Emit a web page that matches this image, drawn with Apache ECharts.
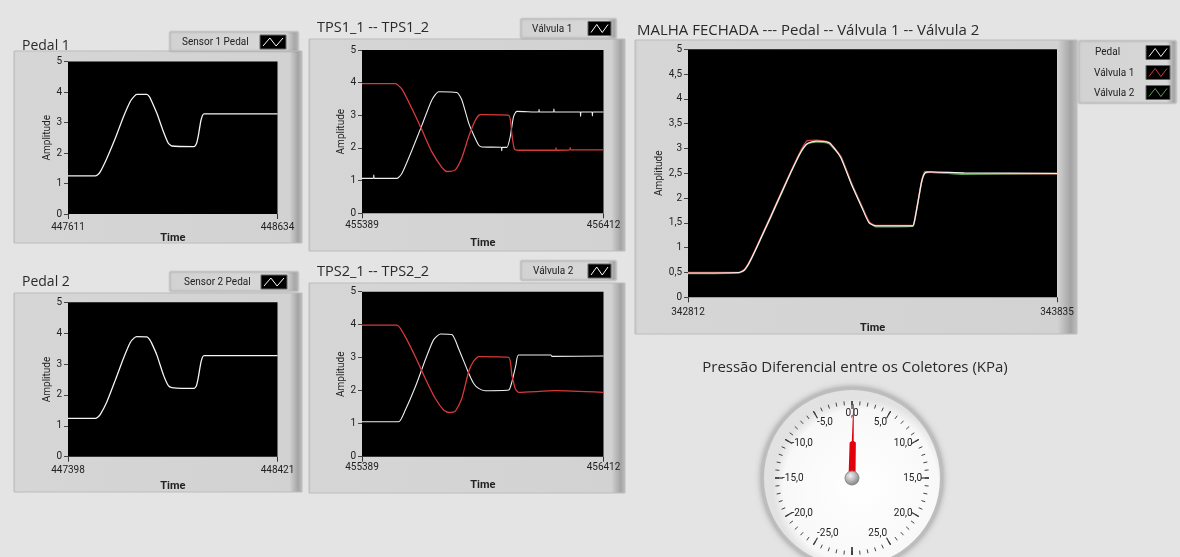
<!DOCTYPE html>
<html><head><meta charset="utf-8">
<script src="https://cdn.jsdelivr.net/npm/echarts@6/dist/echarts.min.js"></script>
<style>html,body{margin:0;padding:0;background:#e4e4e4}#c{width:1180px;height:557px}</style>
</head><body><div id="c"></div><script>
// ---- data (time offsets from the start of each window, amplitude values) ----
const span = 1023;
const pedal1Start = 447611, pedal2Start = 447398, tps1Start = 455389, tps2Start = 455389, malhaStart = 342812;

const pedal1T = [0,133,145,158,190,231,271,304,322,336,385,398,409,434,466,490,507,615,627,637,650,664,1023];
const pedal1V = [1.25,1.25,1.29,1.39,1.83,2.48,3.19,3.69,3.85,3.92,3.92,3.84,3.69,3.3,2.7,2.32,2.23,2.21,2.3,2.59,3.09,3.28,3.28];

const pedal2T = [0,133,145,158,190,231,271,304,322,336,385,398,409,434,466,490,507,615,627,637,650,664,1023];
const pedal2V = [1.24,1.24,1.28,1.37,1.78,2.48,3.19,3.7,3.84,3.89,3.88,3.8,3.67,3.29,2.65,2.3,2.24,2.21,2.3,2.59,3.08,3.27,3.27];

const tps1aT = [0,48,50,52,148,169,212,254,296,325,402,423,452,473,494,508,590,592,594,614,628,642,656,748,750,752,811,813,815,924,926,928,974,976,978,1023];
const tps1aV = [1.07,1.07,1.17,1.07,1.07,1.22,1.94,2.7,3.47,3.72,3.7,3.47,2.76,2.4,2.09,2.03,2.02,1.92,2.02,2.02,2.35,2.96,3.12,3.1,3.18,3.1,3.1,3.19,3.1,3.1,2.97,3.1,3.1,2.98,3.1,3.1];
const tps1bT = [0,141,169,212,254,296,339,360,395,423,452,480,501,621,635,646,663,820,822,824,880,882,884,1023];
const tps1bV = [3.97,3.97,3.8,3.2,2.55,1.88,1.4,1.28,1.33,1.7,2.35,2.85,3.02,3.0,2.4,1.96,1.93,1.93,2.0,1.93,1.94,2.01,1.94,1.94];

const tps2aT = [0,155,183,226,268,303,332,381,409,452,473,494,522,621,635,652,663,800,805,1023];
const tps2aV = [1.06,1.06,1.41,2.12,2.93,3.54,3.72,3.7,3.28,2.53,2.22,2.07,2.0,2.02,2.27,2.78,3.08,3.08,3.04,3.05];
const tps2bT = [0,148,183,226,268,310,346,367,395,423,452,473,494,621,635,649,663,818,1023];
const tps2bV = [3.99,3.99,3.64,3.03,2.37,1.77,1.41,1.34,1.38,1.77,2.58,2.9,3.03,3.01,2.47,2.07,1.95,2.0,1.95];

const malhaT  = [0,141,156,170,190,229,258,287,312,331,356,390,404,424,453,482,502,521,623,628,638,648,657,672,765,1023];
const malhaPedal = [0.49,0.5,0.55,0.7,1.0,1.62,2.09,2.55,2.92,3.1,3.15,3.12,3.02,2.81,2.28,1.81,1.5,1.44,1.44,1.54,1.94,2.34,2.51,2.53,2.51,2.5];
const malhaV1 = [0.5,0.5,0.56,0.72,1.02,1.64,2.11,2.57,2.95,3.16,3.17,3.13,3.03,2.83,2.3,1.83,1.52,1.45,1.45,1.56,1.96,2.36,2.54,2.52,2.5,2.49];
const malhaV2 = [0.48,0.49,0.54,0.69,0.99,1.6,2.07,2.54,2.91,3.09,3.13,3.1,3.0,2.84,2.31,1.84,1.53,1.42,1.43,1.52,1.92,2.33,2.5,2.52,2.48,2.49];

const gaugeValue = 0.2;

// ---- styling helpers ----
const FONT = 'Open Sans';
const TXT = '#222';
function mkX(gi, start, margin, nameGap) {
  return { gridIndex: gi, type: 'value', min: 0, max: span, interval: span,
    axisLine: { show: false }, splitLine: { show: false },
    axisTick: { show: true, length: 5, lineStyle: { color: '#333' } },
    axisLabel: { margin: margin, fontSize: 10, color: TXT, fontFamily: 'Roboto', formatter: v => String(start + v) },
    name: 'Time', nameLocation: 'middle', nameGap: nameGap,
    nameTextStyle: { fontWeight: 'bold', fontSize: 11, color: TXT, fontFamily: 'Roboto' } };
}
function mkY(gi, interval, nameGap) {
  return { gridIndex: gi, type: 'value', min: 0, max: 5, interval: interval,
    axisLine: { show: false }, splitLine: { show: false },
    axisTick: { show: true, length: 4, lineStyle: { color: '#444' } },
    axisLabel: { margin: 6, fontSize: 10, color: TXT, fontFamily: 'Roboto', formatter: v => String(v).replace('.', ',') },
    name: 'Amplitude', nameLocation: 'middle', nameGap: nameGap, nameRotate: 90,
    nameTextStyle: { fontSize: 10, color: TXT, fontFamily: 'Roboto' } };
}
function line(gi, T, V, color, width, z) {
  return { type: 'line', xAxisIndex: gi, yAxisIndex: gi, data: T.map((t, i) => [t, V[i]]),
    showSymbol: false, symbol: 'none', smooth: 0.2, lineStyle: { color: color, width: width }, itemStyle: { color: color },
    z: z, animation: false };
}
function frame(x, y, w, h) {
  return { type: 'rect', z: -5, shape: { x: x, y: y, width: w, height: h },
    style: { fill: { type: 'linear', x: 0, y: 0, x2: 1, y2: 0, colorStops: [
      { offset: 0, color: '#c4c4c4' }, { offset: 0.008, color: '#d6d6d6' },
      { offset: 0.955, color: '#d2d2d2' }, { offset: 0.985, color: '#a4a4a4' }, { offset: 1, color: '#c0c0c0' }] },
      stroke: '#bcbcbc', lineWidth: 1 } };
}
function legendBox(x, y, w, h) {
  return { type: 'rect', z: 5, shape: { x: x, y: y, width: w, height: h },
    style: { fill: { type: 'linear', x: 0, y: 0, x2: 1, y2: 0, colorStops: [
      { offset: 0, color: '#d2d2d2' }, { offset: 0.9, color: '#d8d8d8' }, { offset: 0.97, color: '#a8a8a8' }, { offset: 1, color: '#bdbdbd' }] },
      stroke: '#c2c2c2', lineWidth: 1, shadowBlur: 2, shadowColor: 'rgba(0,0,0,0.2)' } };
}
function swatch(x, y, w, h, color) {
  return [
    { type: 'rect', z: 6, shape: { x: x, y: y, width: w, height: h }, style: { fill: '#000', stroke: '#666', lineWidth: 1 } },
    { type: 'polyline', z: 7, shape: { points: [[x + 3, y + h - 3], [x + w * 0.38, y + 3], [x + w * 0.62, y + h - 3], [x + w - 3, y + 3]] },
      style: { stroke: color, lineWidth: 1, fill: null } }
  ];
}
function text(x, y, s, size, align) {
  return { type: 'text', z: 8, x: x, y: y,
    style: { text: s, fill: '#2a2a2a', font: size + 'px "' + FONT + '"', textAlign: align || 'left', textVerticalAlign: 'middle' } };
}
function smallText(x, y, s) {
  return { type: 'text', z: 8, x: x, y: y, style: { text: s, fill: TXT, font: '10px Roboto', textAlign: 'left', textVerticalAlign: 'middle' } };
}

const graphics = [
  frame(14, 51, 288, 192), frame(14, 293, 288, 199), frame(309, 39, 316, 212), frame(309, 283, 316, 210), frame(635, 40, 442, 294),
  text(22, 46, 'Pedal 1', 14), text(22, 282, 'Pedal 2', 14),
  text(317, 28, 'TPS1_1 -- TPS1_2', 14.5), text(317, 272, 'TPS2_1 -- TPS2_2', 14.5),
  text(637, 31, 'MALHA FECHADA --- Pedal -- Válvula 1 -- Válvula 2', 15),
  text(855, 368, 'Pressão Diferencial entre os Coletores (KPa)', 15, 'center'),
  legendBox(170, 32, 128, 19), smallText(182, 42, 'Sensor 1 Pedal'), ...swatch(260, 35, 26, 14, '#fff'),
  legendBox(170, 272, 128, 19), smallText(184, 282, 'Sensor 2 Pedal'), ...swatch(261, 275, 26, 14, '#fff'),
  legendBox(521, 19, 95, 19), smallText(532, 29, 'Válvula 1'), ...swatch(588, 21.5, 23, 14, '#fff'),
  legendBox(521, 261, 95, 19), smallText(533, 271, 'Válvula 2'), ...swatch(588, 264, 23, 14, '#fff'),
  legendBox(1079, 41, 97, 62),
  smallText(1095, 52, 'Pedal'), ...swatch(1146, 45.5, 24, 14, '#f0f0f0'),
  smallText(1094, 73, 'Válvula 1'), ...swatch(1146, 65.5, 24, 14, '#d03a3a'),
  smallText(1094, 93, 'Válvula 2'), ...swatch(1146, 85.5, 24, 14, '#5aa050'),
  { type: 'circle', z: -2, shape: { cx: 852, cy: 478, r: 91 },
    style: { fill: '#bdbdbd', shadowBlur: 6, shadowColor: 'rgba(0,0,0,0.35)' } },
  { type: 'circle', z: -1, shape: { cx: 852, cy: 478, r: 88 },
    style: { fill: { type: 'radial', x: 0.55, y: 0.55, r: 0.5, colorStops: [
      { offset: 0, color: '#ffffff' }, { offset: 0.88, color: '#f8f8f8' }, { offset: 1, color: '#e2e2e2' }] } } }
];

const chart = echarts.init(document.getElementById('c'), null, { renderer: 'canvas' });
chart.setOption({
  backgroundColor: '#e4e4e4',
  animation: false,
  grid: [
    { left: 68, top: 61.5, width: 209.5, height: 152.5, show: true, backgroundColor: '#000', borderWidth: 0 },
    { left: 362, top: 50, width: 241.5, height: 163.3, show: true, backgroundColor: '#000', borderWidth: 0 },
    { left: 688, top: 49.3, width: 369, height: 248, show: true, backgroundColor: '#000', borderWidth: 0 },
    { left: 68, top: 302.3, width: 209.5, height: 154.4, show: true, backgroundColor: '#000', borderWidth: 0 },
    { left: 362, top: 291.7, width: 241.5, height: 165, show: true, backgroundColor: '#000', borderWidth: 0 }
  ],
  xAxis: [
    mkX(0, pedal1Start, 8, 18), mkX(1, tps1Start, 7, 24), mkX(2, malhaStart, 10, 25),
    mkX(3, pedal2Start, 9, 24), mkX(4, tps2Start, 6, 23)
  ],
  yAxis: [ mkY(0, 1, 16), mkY(1, 1, 16), mkY(2, 0.5, 24), mkY(3, 1, 16), mkY(4, 1, 16) ],
  graphic: { elements: graphics },
  series: [
    line(0, pedal1T, pedal1V, '#f4f4f4', 1.3, 3),
    line(1, tps1aT, tps1aV, '#eeeeee', 1.1, 3),
    line(1, tps1bT, tps1bV, '#d83a3a', 1.3, 4),
    line(2, malhaT, malhaV2, '#5aa050', 1.3, 3),
    line(2, malhaT, malhaV1, '#d03a3a', 1.3, 4),
    line(2, malhaT, malhaPedal, '#f4f4f4', 1.2, 5),
    line(3, pedal2T, pedal2V, '#f4f4f4', 1.3, 3),
    line(4, tps2aT, tps2aV, '#eeeeee', 1.1, 3),
    line(4, tps2bT, tps2bV, '#d83a3a', 1.3, 4),
    {
      type: 'gauge', center: [852, 478], radius: 88, startAngle: 270, endAngle: -90,
      min: -30, max: 30, splitNumber: 12, z: 3,
      axisLine: { show: false },
      splitLine: { show: true, distance: 1, length: 8, lineStyle: { color: '#333', width: 1.2 } },
      axisTick: { show: true, splitNumber: 5, distance: 1, length: 4, lineStyle: { color: '#444', width: 1 } },
      axisLabel: { distance: 9, fontSize: 10, color: TXT, fontFamily: 'Roboto',
        formatter: v => (Math.abs(v) >= 30 ? '' : v.toFixed(1).replace('.', ',')) },
      pointer: { show: true, icon: 'path://M4.6,0 L5.4,0 L6.2,50 L9,52 L9.5,100 L0.5,100 L1,52 L3.8,50 Z',
        length: '84%', width: 7, offsetCenter: [0, 0], itemStyle: { color: '#e3000b' } },
      anchor: { show: true, showAbove: true, size: 14,
        itemStyle: { color: { type: 'radial', x: 0.4, y: 0.35, r: 0.7, colorStops: [
          { offset: 0, color: '#f0f0f0' }, { offset: 1, color: '#7a7a7a' }] }, borderColor: '#888', borderWidth: 1 } },
      title: { show: false }, detail: { show: false },
      data: [{ value: gaugeValue }]
    }
  ]
});
</script></body></html>
